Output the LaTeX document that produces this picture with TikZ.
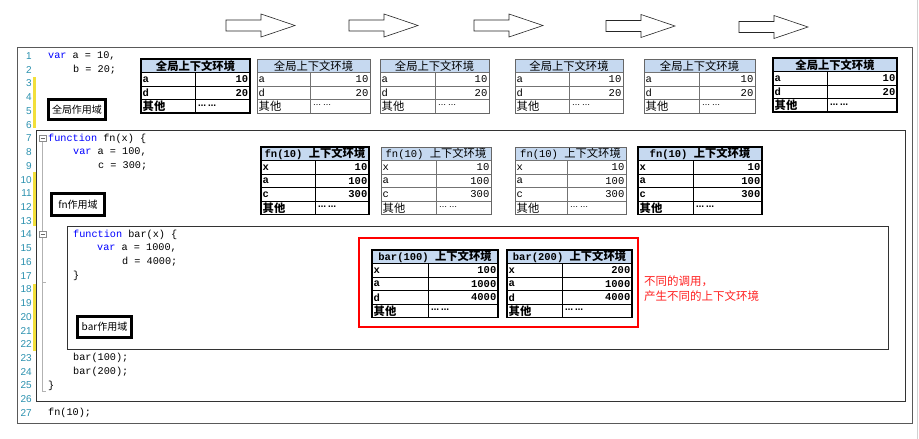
\documentclass[tikz,border=0pt]{standalone}
\usepackage{fontspec}
\newfontfamily\mono{Liberation Mono}
\newfontfamily\cjk{Noto Sans CJK SC}
\newfontfamily\lnfont{Liberation Sans}
\newfontfamily\sym{DejaVu Sans}
\definecolor{kwblue}{HTML}{0000FF}
\definecolor{lnteal}{HTML}{2B91AF}
\definecolor{chgyellow}{HTML}{F2DF3A}
\definecolor{hdrblue}{HTML}{C6D9F0}
\definecolor{notered}{HTML}{FF2020}

% vertical position of editor line n
\newcommand\yl[1]{56+(#1-1)*13.73}
\newcommand\kw[1]{\textcolor{kwblue}{#1}}
\newcommand\etc{{\fontsize{8}{8}\selectfont\sym ⋯\hspace{2pt}⋯}}
\newcommand\hz[1]{{\fontsize{11.3}{12}\selectfont\cjk #1}}

% context table: name, left, divider, right, top, header, key/value rows;
% a closing "其他" row is always appended
\newcommand\ctxtab[7]{%
  \fill[hdrblue] (#2,#5) rectangle (#4,{#5+13.5});
  \node[cell] (#1-h) at ({(#2+#4)/2},{#5+7}) {#6};
  \foreach[count=\i] \k/\v in {#7}{
    \draw[tabrule] (#2,{#5+\i*13.5}) -- (#4,{#5+\i*13.5});
    \node[cell,anchor=west] (#1-k\i) at ({#2+1.5},{#5+(\i+0.5)*13.5}) {\k};
    \node[cell,anchor=east] (#1-v\i) at ({#4-1.5},{#5+(\i+0.5)*13.5}) {\v};
    \xdef\nrows{\i}
  }
  \pgfmathtruncatemacro\lastrow{\nrows+1}
  \draw[tabrule] (#2,{#5+\lastrow*13.5}) -- (#4,{#5+\lastrow*13.5});
  \node[cell,anchor=west] (#1-k\lastrow) at ({#2+1.5},{#5+(\lastrow+0.5)*13.5}) {\hz{其他}};
  \node[cell,anchor=west] (#1-v\lastrow) at ({#3+3},{#5+(\lastrow+0.5)*13.5}) {\etc};
  \draw[tabrule] (#3,{#5+13.5}) -- (#3,{#5+(\lastrow+1)*13.5});
  \draw[tabframe] (#2,#5) rectangle (#4,{#5+(\lastrow+1)*13.5});
}

% hollow block arrow: left x, centre y
\newcommand\blockarrow[2]{%
  \draw[arrowline] (#1,{#2-5.5}) -- ({#1+35},{#2-5.5}) -- ({#1+35},{#2-11.5})
    -- ({#1+69},{#2}) -- ({#1+35},{#2+11.5}) -- ({#1+35},{#2+5.5})
    -- (#1,{#2+5.5}) -- cycle;
}

\begin{document}
\begin{tikzpicture}[x=1pt,y=-1pt,
  cell/.style={inner sep=0pt,font=\fontsize{10.5}{12}\selectfont\mono},
  tabrule/.style={black!55,line width=0.6pt},
  tabframe/.style={black!60,line width=0.8pt},
  boldtab/.style={
    cell/.style={inner sep=0pt,font=\fontsize{10.5}{12}\selectfont\mono\bfseries},
    tabrule/.style={black,line width=0.9pt},
    tabframe/.style={black,line width=1.2pt}},
  arrowline/.style={black!85,line width=0.6pt,fill=white},
  code/.style={anchor=west,inner sep=0pt,font=\fontsize{10.2}{12}\selectfont\mono},
  lnum/.style={anchor=east,inner sep=0pt,text=lnteal,font=\fontsize{10}{12}\selectfont\lnfont},
  scopelabel/.style={draw=black,line width=2.2pt,fill=white,inner sep=0pt,
    preaction={draw=black!35,line width=3.8pt},
    font=\fontsize{10}{12}\selectfont\cjk},
  frame/.style={black!80,line width=0.8pt},
  fold/.style={draw=black!45,line width=0.5pt,minimum size=6.5pt,inner sep=0pt,fill=white},
  guide/.style={black!30,line width=0.8pt},
  change/.style={chgyellow,line width=2.6pt}]

\useasboundingbox (0,0) rectangle (919,439);
\fill[white] (0,0) rectangle (919,439);
\draw[black!18,line width=0.8pt] (917.5,0) -- (917.5,439);

% flow of execution along the top
\blockarrow{226}{25.5}
\blockarrow{349}{25.5}
\blockarrow{474}{25.5}
\blockarrow{606}{26}
\blockarrow{739}{27}

% changed-line markers
\draw[change] (34.5,77) -- (34.5,128);
\draw[change] (34.5,172) -- (34.5,226);
\draw[change] (34.5,284) -- (34.5,351);

% editor frames
\draw[black!65,line width=0.8pt] (17,47) rectangle (912,423);
\draw[frame] (36,130) rectangle (905,401);
\draw[frame] (67,226) rectangle (888,349);

% line numbers
\foreach \n in {1,...,27}{
  \node[lnum] (ln\n) at (32,{\yl{\n}}) {\n};
}

% folding markers
\node[fold] (fold7) at (42.5,{\yl{7}}) {};
\node[fold] (fold14) at (42.5,{\yl{14}}) {};
\draw[guide] (fold7.south) -- (fold14.north);
\draw[guide] (fold14.south) -- (42.5,{\yl{25}+6}) -- (46,{\yl{25}+6});
\draw[guide] (42.5,{\yl{17}+7}) -- (46,{\yl{17}+7});
\foreach \f in {fold7,fold14}{
  \draw[black!60,line width=0.5pt] ([xshift=1.5pt]\f.west) -- ([xshift=-1.5pt]\f.east);
}

% source code
\node[code] (c1)  at (48,{\yl{1}})  {\kw{var} a = 10,};
\node[code] (c2)  at (73,{\yl{2}})  {b = 20;};
\node[code] (c7)  at (48,{\yl{7}})  {\kw{function} fn(x) \{};
\node[code] (c8)  at (73,{\yl{8}})  {\kw{var} a = 100,};
\node[code] (c9)  at (98,{\yl{9}})  {c = 300;};
\node[code] (c14) at (73,{\yl{14}}) {\kw{function} bar(x) \{};
\node[code] (c15) at (97,{\yl{15}}) {\kw{var} a = 1000,};
\node[code] (c16) at (122,{\yl{16}}) {d = 4000;};
\node[code] (c17) at (73,{\yl{17}}) {\}};
\node[code] (c23) at (73,{\yl{23}}) {bar(100);};
\node[code] (c24) at (73,{\yl{24}}) {bar(200);};
\node[code] (c25) at (48,{\yl{25}}) {\}};
\node[code] (c27) at (48,{\yl{27}}) {fn(10);};

% scope labels
\node[scopelabel,minimum width=57pt,minimum height=20pt] (gscope) at (77,109.5) {全局作用域};
\node[scopelabel,minimum width=53pt,minimum height=22pt] (fscope) at (78,204.5) {fn作用域};
\node[scopelabel,minimum width=54pt,minimum height=21pt] (bscope) at (104.5,327) {bar作用域};

% global execution context, one copy per step
\begin{scope}[boldtab]
\ctxtab{g1}{141}{195}{250}{59}{\hz{全局上下文环境}}{a/10,d/20}
\end{scope}
\ctxtab{g2}{257}{310}{370}{59}{\hz{全局上下文环境}}{a/10,d/20}
\ctxtab{g3}{380}{435}{489}{59}{\hz{全局上下文环境}}{a/10,d/20}
\ctxtab{g4}{515}{569}{623}{59}{\hz{全局上下文环境}}{a/10,d/20}
\ctxtab{g5}{644}{699}{755}{59}{\hz{全局上下文环境}}{a/10,d/20}
\begin{scope}[boldtab]
\ctxtab{g6}{773}{827}{897}{58}{\hz{全局上下文环境}}{a/10,d/20}
\end{scope}

% context of fn(10)
\begin{scope}[boldtab]
\ctxtab{f1}{261}{315}{369}{147}{fn(10)\ \hz{上下文环境}}{x/10,a/100,c/300}
\end{scope}
\ctxtab{f2}{381}{436}{491}{147}{fn(10)\ \hz{上下文环境}}{x/10,a/100,c/300}
\ctxtab{f3}{515}{567}{626}{147}{fn(10)\ \hz{上下文环境}}{x/10,a/100,c/300}
\begin{scope}[boldtab]
\ctxtab{f4}{638}{693}{762}{147}{fn(10)\ \hz{上下文环境}}{x/10,a/100,c/300}
\end{scope}

% contexts of the two bar calls
\draw[red,line width=1.2pt] (359,238) rectangle (638,327);
\begin{scope}[boldtab]
\ctxtab{b1}{372}{428}{498}{250}{bar(100)\ \hz{上下文环境}}{x/100,a/1000,d/4000}
\ctxtab{b2}{507}{562}{632}{250}{bar(200)\ \hz{上下文环境}}{x/200,a/1000,d/4000}
\end{scope}

\node[anchor=north west,inner sep=0pt,align=left,text=notered,
  font=\fontsize{11.5}{15}\selectfont\cjk] (note) at (644,276)
  {不同的调用，\\产生不同的上下文环境};

\end{tikzpicture}
\end{document}
